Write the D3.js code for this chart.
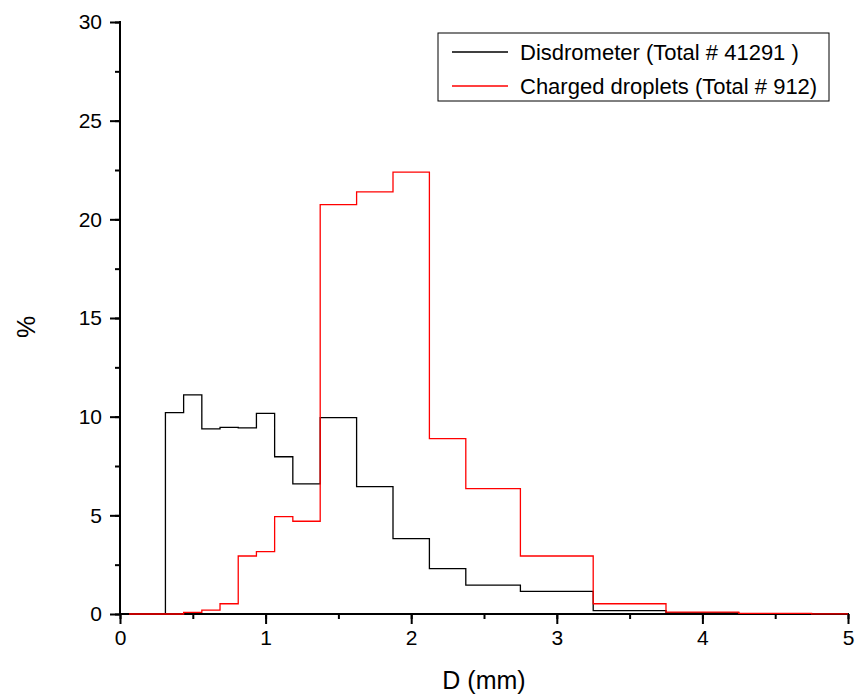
<!DOCTYPE html>
<html>
<head>
<meta charset="utf-8">
<script src="https://cdn.jsdelivr.net/npm/d3@7"></script>
<style>
  body { margin: 0; background: #fff; }
  svg { font-family: "Liberation Sans", Arial, sans-serif; }
</style>
</head>
<body>
<script>
// class centres (mm) - step drawn from each point to the next
let diam = [0.062, 0.187, 0.312, 0.437, 0.562, 0.687, 0.812, 0.937, 1.062, 1.187,
            1.375, 1.625, 1.875, 2.125, 2.375, 2.75, 3.25, 3.75, 4.25, 4.75, 5.5];

let disdrometer = [0, 0, 10.2, 11.1, 9.38, 9.46, 9.43, 10.17, 7.97, 6.59,
                   9.95, 6.45, 3.82, 2.3, 1.46, 1.15, 0.17, 0.06, 0.02, 0.01, 0];

let charged = [0, 0, 0, 0.08, 0.2, 0.52, 2.94, 3.16, 4.93, 4.7,
               20.75, 21.39, 22.39, 8.89, 6.35, 2.94, 0.52, 0.1, 0.03, 0.01, 0];

let seriesNames = ["Disdrometer (Total # 41291 )", "Charged droplets (Total # 912)"];
let seriesColors = ["#000000", "#ff0000"];

let xTicks = [0, 1, 2, 3, 4, 5];
let yTicks = [0, 5, 10, 15, 20, 25, 30];

let width = 860, height = 698;
let mLeft = 120, mRight = 848, mTop = 22, mBottom = 614;

let svg = d3.select("body")
  .append("svg")
    .attr("width", width)
    .attr("height", height);

let x = d3.scaleLinear().domain([0, 5]).range([mLeft, mRight]);
let y = d3.scaleLinear().domain([0, 30]).range([mBottom, mTop]);

svg.append("defs").append("clipPath")
    .attr("id", "plotclip")
  .append("rect")
    .attr("x", mLeft).attr("y", mTop - 2)
    .attr("width", mRight - mLeft).attr("height", mBottom - mTop + 3);

// x axis
let xAxis = svg.append("g")
  .attr("transform", "translate(0," + mBottom + ")");
xAxis.call(d3.axisBottom(x).tickValues(d3.range(0, 5.01, 0.5)).tickSize(5).tickFormat(""))
  .call(g => g.select(".domain").remove());
xAxis.append("g")
  .call(d3.axisBottom(x).tickValues(xTicks).tickSize(10).tickPadding(6).tickFormat(d3.format("d")))
  .call(g => g.select(".domain").remove())
  .selectAll("text")
    .style("font-size", "21px")
    .style("font-family", "Liberation Sans, Arial, sans-serif")
    .attr("fill", "#000");
xAxis.selectAll("line").attr("stroke", "#000").attr("stroke-width", 2);
xAxis.append("line")
  .attr("x1", mLeft - 1).attr("x2", mRight + 1)
  .attr("stroke", "#000").attr("stroke-width", 2);

// y axis
let yAxis = svg.append("g")
  .attr("transform", "translate(" + mLeft + ",0)");
yAxis.call(d3.axisLeft(y).tickValues(d3.range(0, 30.01, 2.5)).tickSize(5).tickFormat(""))
  .call(g => g.select(".domain").remove());
yAxis.append("g")
  .call(d3.axisLeft(y).tickValues(yTicks).tickSize(10).tickPadding(8).tickFormat(d3.format("d")))
  .call(g => g.select(".domain").remove())
  .selectAll("text")
    .style("font-size", "21px")
    .style("font-family", "Liberation Sans, Arial, sans-serif")
    .attr("fill", "#000");
yAxis.selectAll("line").attr("stroke", "#000").attr("stroke-width", 2);
yAxis.append("line")
  .attr("y1", mTop - 1).attr("y2", mBottom + 1)
  .attr("stroke", "#000").attr("stroke-width", 2);

// step lines, drawn over the axes like the original
let line = d3.line()
  .x(d => x(d[0]))
  .y(d => y(d[1]))
  .curve(d3.curveStepAfter);

let allSeries = [disdrometer, charged];

allSeries.forEach((vals, i) => {
  let pts = diam.map((d, j) => [d, vals[j]]);
  svg.append("path")
    .attr("clip-path", "url(#plotclip)")
    .attr("d", line(pts))
    .attr("fill", "none")
    .attr("stroke", seriesColors[i])
    .attr("stroke-width", 1.3);
});

// axis titles
svg.append("text")
  .attr("x", (mLeft + mRight) / 2)
  .attr("y", 689)
  .attr("text-anchor", "middle")
  .attr("font-size", 25)
  .text("D (mm)");

svg.append("text")
  .attr("transform", "translate(35," + 327 + ") rotate(-90)")
  .attr("text-anchor", "middle")
  .attr("font-size", 25)
  .text("%");

// legend
let legend = svg.append("g");
legend.append("rect")
  .attr("x", 438).attr("y", 33)
  .attr("width", 391).attr("height", 68)
  .attr("fill", "#fff")
  .attr("stroke", "#000")
  .attr("stroke-width", 1);

seriesNames.forEach((name, i) => {
  let ly = 52 + i * 34;
  legend.append("line")
    .attr("x1", 452).attr("x2", 508)
    .attr("y1", ly).attr("y2", ly)
    .attr("stroke", seriesColors[i])
    .attr("stroke-width", 1.3);
  legend.append("text")
    .attr("x", 520)
    .attr("y", ly)
    .attr("dy", "0.35em")
    .attr("font-size", 22)
    .text(name);
});
</script>
</body>
</html>
